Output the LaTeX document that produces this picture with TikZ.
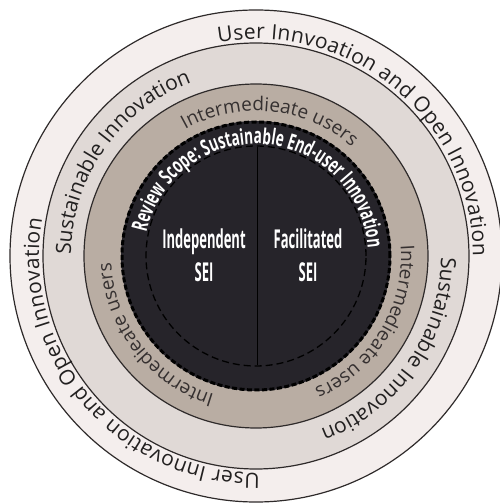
\documentclass[tikz,border=0pt]{standalone}
\usepackage{fontspec}
\setmainfont{Open Sans}
\newfontfamily\condA{Open Sans}[FakeStretch=0.5]
\newfontfamily\condB{Open Sans}[FakeStretch=0.62]
\usetikzlibrary{decorations.text}
\definecolor{bandA}{HTML}{F4EEED}
\definecolor{bandB}{HTML}{E0D9D6}
\definecolor{bandC}{HTML}{B9ADA3}
\definecolor{darkfill}{HTML}{26242A}
\definecolor{ringline}{HTML}{2E2A2A}
\definecolor{txt}{HTML}{222020}
\definecolor{txtB}{HTML}{353030}
\tikzset{
  ring/.style={draw=ringline, line width=1.2pt},
  arctext/.style={decorate, decoration={text along path, text align=center, text color=#1}},
  fittext/.style={decorate, decoration={text along path, text align=fit to path, text color=#1}},
  sei/.style={text=white, align=center, font=\condA\bfseries\fontsize{26}{33}\selectfont}
}
\begin{document}
\begin{tikzpicture}[x=1pt,y=1pt]
\useasboundingbox (0,0) rectangle (500,504);
\coordinate (C) at (256,248);
% rings
\draw[ring, fill=bandA] (C) circle[radius=246];
\draw[ring, fill=bandB] (C) circle[radius=213];
\draw[ring, fill=bandC] (C) circle[radius=172];
\fill[darkfill] (C) circle[radius=135];
\draw[black, line width=3pt, dash pattern=on 5pt off 2.5pt] (C) circle[radius=134];
\draw[black, line width=1.3pt, dash pattern=on 7pt off 4pt] (C) circle[radius=110];
% divider
\path (C) ++(1,109) coordinate (divtop);
\path (C) ++(1,-109) coordinate (divbot);
\draw[black, line width=0.8pt] (divtop) -- (divbot);
% outer band texts
\path[fittext=txt, decoration={text={|\fontsize{21}{21}\selectfont|User Innvoation and Open Innovation}}]
  (C) ++(100:217) arc[start angle=100, end angle=0, radius=217];
\path[fittext=txt, decoration={text={|\fontsize{21}{21}\selectfont|User Innovation and Open Innovation}}]
  (C) ++(-89:217) arc[start angle=-89, end angle=-190, radius=217];
% middle band texts
\path[arctext=txt, decoration={text={|\fontsize{21}{21}\selectfont|Sustainable Innovation}}]
  (C) ++(190:185) arc[start angle=190, end angle=100, radius=185];
\path[arctext=txt, decoration={text={|\fontsize{21}{21}\selectfont|Sustainable Innovation}}]
  (C) ++(10:185) arc[start angle=10, end angle=-80, radius=185];
% tan band texts
\path[arctext=txtB, decoration={text={|\fontsize{19}{19}\selectfont|Intermedieate users}}]
  (C) ++(129:145) arc[start angle=129, end angle=39, radius=145];
\path[arctext=txtB, decoration={text={|\fontsize{19}{19}\selectfont|Intermedieate users}}]
  (C) ++(14:145) arc[start angle=14, end angle=-76, radius=145];
\path[arctext=txtB, decoration={text={|\fontsize{19}{19}\selectfont|Intermedieate users}}]
  (C) ++(263:145) arc[start angle=263, end angle=173, radius=145];
% review scope text
\path[arctext=white, decoration={text={|\condB\bfseries\fontsize{22}{22}\selectfont|Review Scope: Sustainable End-user Innovation}}]
  (C) ++(186:112) arc[start angle=186, end angle=-14, radius=112];
% labels
\node[sei] (ind) at (204,249) {Independent\\SEI};
\node[sei] (fac) at (308,249) {Facilitated\\SEI};
\end{tikzpicture}
\end{document}
